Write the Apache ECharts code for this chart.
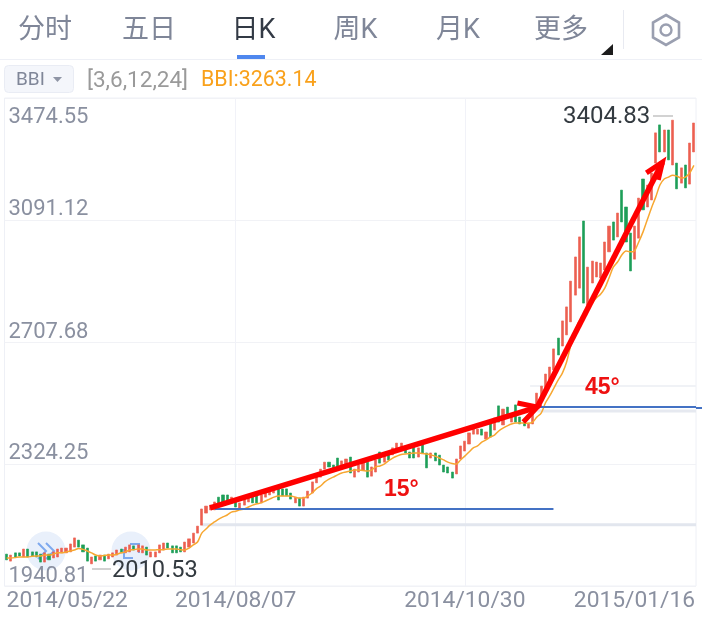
<!DOCTYPE html>
<html><head><meta charset="utf-8">
<style>html,body{margin:0;padding:0;background:#fff}#c{width:702px;height:619px}</style>
<script src="https://cdn.jsdelivr.net/npm/echarts@6/dist/echarts.min.js"></script>
</head><body><div id="c"></div>
<script>
var FONT='Roboto,"Noto Sans CJK SC",sans-serif';
var tabs=['分时','五日','日K','周K','月K','更多'];
var yTicks=[1940.81,2324.25,2707.68,3091.12,3474.55];
var dateLabels={0:'2014/05/22',54:'2014/08/07',108:'2014/10/30',148:'2015/01/16'};
var highs=[2041,2038,2045,2045,2057,2057,2048,2048,2041,2045,2041,2048,2057,2060,2060,2073,2092,2085,2070,2060,
2032,2035,2038,2038,2041,2045,2054,2057,2063,2070,2067,2070,2067,2063,2048,2048,2070,2076,2076,2067,
2067,2063,2079,2089,2107,2129,2183,2192,2195,2205,2220,2227,2227,2220,2211,2202,2214,2220,2220,2224,
2227,2236,2239,2246,2249,2246,2246,2233,2220,2217,2220,2239,2268,2283,2308,2330,2330,2321,2343,2334,
2340,2346,2308,2321,2327,2330,2315,2337,2362,2356,2359,2375,2390,2390,2381,2362,2378,2375,2384,2359,
2359,2359,2352,2321,2315,2299,2340,2381,2396,2422,2434,2434,2434,2425,2453,2469,2507,2497,2503,2478,
2510,2472,2456,2453,2488,2547,2569,2607,2629,2686,2720,2774,2818,2899,2975,3038,3088,2943,2962,2959,
2956,3022,3072,3085,3113,3185,3132,3050,3072,3160,3220,3201,3239,3365,3390,3374,3374,3404.83,3270,3255,
3264,3333,3396];
var lows=[2023,2019,2032,2035,2032,2032,2035,2032,2016,2016,2023,2029,2032,2045,2045,2048,2063,2063,2048,2019,
2010.53,2019,2023,2019,2026,2032,2038,2045,2045,2048,2054,2048,2045,2038,2032,2032,2045,2054,2060,2045,
2045,2048,2048,2063,2076,2107,2132,2170,2180,2180,2195,2202,2205,2202,2189,2186,2195,2205,2202,2202,
2202,2220,2227,2233,2211,2224,2224,2214,2202,2192,2192,2217,2233,2265,2283,2308,2315,2308,2308,2315,
2315,2296,2283,2299,2305,2283,2286,2299,2327,2330,2337,2353,2362,2368,2359,2343,2343,2346,2359,2312,
2343,2334,2321,2299,2296,2280,2293,2340,2365,2387,2418,2418,2415,2403,2409,2431,2456,2447,2478,2456,
2456,2450,2444,2437,2450,2500,2525,2551,2573,2620,2667,2695,2730,2771,2855,2877,2830,2824,2893,2912,
2909,2934,2991,3028,3038,3085,3022,2931,2968,3034,3123,3132,3154,3270,3305,3305,3280,3264,3189,3207,
3192,3204,3305];
var rising=[0,1,0,0,1,0,0,0,0,1,0,1,1,1,1,1,1,0,0,0,
1,0,1,0,1,1,1,0,1,1,0,1,1,0,1,1,1,1,0,0,
0,0,1,1,1,1,1,1,1,1,0,0,0,1,0,1,1,1,0,0,
1,1,1,1,0,0,0,0,1,0,1,1,1,1,1,1,0,0,0,1,
1,0,1,1,1,0,1,1,0,1,0,1,1,1,0,0,0,1,0,0,
1,0,0,0,0,0,1,1,1,1,1,1,0,1,0,1,0,1,0,1,
0,0,0,1,1,1,1,1,1,1,0,1,1,1,1,1,0,1,1,1,
1,1,1,0,1,0,0,0,1,1,0,1,1,1,0,1,0,1,0,1,
0,1,1];
var bbi=[2029,2029,2030,2032,2032,2032,2034,2035,2035,2038,2038,2041,2045,2045,2048,2051,2054,2059,2056,2051,
2045,2038,2035,2037,2038,2038,2041,2045,2048,2054,2055,2057,2057,2054,2054,2054,2055,2055,2057,2057,
2057,2055,2054,2060,2070,2079,2107,2120,2133,2142,2151,2158,2164,2173,2176,2180,2183,2189,2195,2199,
2202,2208,2214,2220,2224,2224,2224,2224,2220,2217,2217,2224,2233,2246,2255,2268,2277,2283,2290,2296,
2299,2302,2305,2305,2304,2302,2305,2315,2318,2324,2334,2343,2349,2354,2356,2357,2359,2359,2357,2356,
2353,2349,2343,2337,2330,2326,2324,2337,2349,2362,2375,2381,2393,2400,2409,2415,2428,2437,2444,2450,
2453,2453,2453,2452,2456,2472,2484,2516,2538,2563,2588,2610,2645,2698,2742,2774,2789,2808,2830,2846,
2858,2877,2909,2943,2959,2981,2994,2991,2994,3022,3053,3091,3129,3163,3201,3220,3226,3232,3229,3223,
3226,3239,3263];
var arrowRise=[[47.97,2186],[125.1,2503]];
var arrowRiseHead=[[120.4,2516],[125.1,2503],[121.8,2456]];
var arrowSteep=[[125.1,2503],[154.6,3273]];
var arrowSteepHead=[[150.8,3239],[154.6,3273],[153.6,3217]];
var baseLow=[[49.1,2183],[128.9,2183]];
var baseHigh=[[125.1,2503],[162.5,2503]];
var supportA=[[46.1,2133],[162.5,2133]];
var supportB=[[125.1,2491],[162.5,2491]];
var supportC=[[123.4,2569],[162.5,2569]];

var cats=highs.map(function(_,i){return dateLabels[i]||String(i);});
var candles=highs.map(function(h,i){var l=lows[i];return rising[i]?[l,h,l,h]:[h,l,l,h];});
function lineS(data,color,width,z){return {type:'line',xAxisIndex:1,data:data,symbol:'none',clip:false,silent:true,z:z,
  lineStyle:{color:color,width:width,cap:'butt',join:'miter'},animation:false};}
var tabX=[45,149,253.5,355.5,458,561];
var g=[];
tabs.forEach(function(t,i){g.push({type:'text',z:100,x:tabX[i],y:31,style:{text:t,fontFamily:FONT,fontSize:27,
  fill:i===2?'#333a45':'#7f8698',align:'center',verticalAlign:'middle'}});});
g.push(
 {type:'rect',z:100,shape:{x:0,y:59,width:702,height:1},style:{fill:'#eef0f6'}},
 {type:'rect',z:100,shape:{x:237,y:55,width:28,height:4},style:{fill:'#4f87ee'}},
 {type:'polygon',z:100,shape:{points:[[613,44],[613,55],[601,55]]},style:{fill:'#1c1c1c'}},
 {type:'rect',z:100,shape:{x:623,y:10,width:1,height:39},style:{fill:'#e8eaf1'}},
 {type:'polygon',z:100,shape:{points:[[666,15],[679,22.5],[679,37.5],[666,45],[653,37.5],[653,22.5]]},style:{fill:'none',stroke:'#9a9fb0',lineWidth:2.6}},
 {type:'circle',z:100,shape:{cx:666,cy:30,r:5.5},style:{fill:'none',stroke:'#9a9fb0',lineWidth:2.4}},
 {type:'rect',z:100,shape:{x:4.5,y:65.5,width:69,height:27,r:4},style:{fill:'#f4f6fb',stroke:'#e9ecf4',lineWidth:1}},
 {type:'text',z:100,x:16,y:80,style:{text:'BBI',fontFamily:FONT,fontSize:19,fill:'#7f8698',verticalAlign:'middle'}},
 {type:'polygon',z:100,shape:{points:[[53,77],[62,77],[57.5,82]]},style:{fill:'#8f95a5'}},
 {type:'text',z:100,x:87,y:81,style:{text:'[3,6,12,24]',fontFamily:FONT,fontSize:22.5,fill:'#9a9a9a',verticalAlign:'middle'}},
 {type:'text',z:100,x:201,y:81,style:{text:'BBI:3263.14',fontFamily:FONT,fontSize:21.4,fill:'#f9a11b',verticalAlign:'middle'}},
 {type:'circle',z:0,shape:{cx:46,cy:551,r:19.5},style:{fill:'#e9f0fb'}},
 {type:'polyline',z:0,shape:{points:[[38,543],[46,551],[38,559]]},style:{fill:'none',stroke:'#7ea9ee',lineWidth:2}},
 {type:'polyline',z:0,shape:{points:[[46,543],[54,551],[46,559]]},style:{fill:'none',stroke:'#7ea9ee',lineWidth:2}},
 {type:'circle',z:0,shape:{cx:131,cy:551,r:19.5},style:{fill:'#e9f0fb'}},
 {type:'polyline',z:0,shape:{points:[[130,544],[139,544],[139,553]]},style:{fill:'none',stroke:'#7ea9ee',lineWidth:2}},
 {type:'polyline',z:0,shape:{points:[[124,549],[124,558],[133,558]]},style:{fill:'none',stroke:'#7ea9ee',lineWidth:2}},
 {type:'text',z:100,x:563,y:117,style:{text:'3404.83',fontFamily:FONT,fontSize:24,fill:'#333a40',verticalAlign:'middle'}},
 {type:'rect',z:100,shape:{x:653,y:115.5,width:20,height:1},style:{fill:'#a5a5a5'}},
 {type:'text',z:100,x:112,y:571,style:{text:'2010.53',fontFamily:FONT,fontSize:23.6,fill:'#333a40',verticalAlign:'middle'}},
 {type:'rect',z:100,shape:{x:92,y:568.5,width:19,height:1},style:{fill:'#a5a5a5'}},
 {type:'rect',z:100,shape:{x:696,y:407,width:6,height:2},style:{fill:'#4472c4'}},
 {type:'text',z:100,x:384,y:490,style:{text:'15°',fontFamily:'"Liberation Sans",Arial,sans-serif',fontWeight:'bold',fontSize:23,fill:'#ee1111',verticalAlign:'middle'}},
 {type:'text',z:100,x:585,y:388,style:{text:'45°',fontFamily:'"Liberation Sans",Arial,sans-serif',fontWeight:'bold',fontSize:23,fill:'#ee1111',verticalAlign:'middle'}}
);
var chart=echarts.init(document.getElementById('c'),null,{renderer:'canvas'});
chart.setOption({
 animation:false,
 grid:{left:4.5,top:98,width:691.5,height:488,show:true,borderColor:'#eef0f6',borderWidth:1,containLabel:false},
 xAxis:[{type:'category',data:cats,boundaryGap:true,
   axisLine:{show:false},axisTick:{show:false},
   splitLine:{show:true,alignWithLabel:true,interval:function(i){return i===54||i===108;},lineStyle:{color:'#f1f2f8',width:1}},
   axisLabel:{show:true,interval:function(i){return dateLabels[i]!==undefined;},hideOverlap:false,alignMinLabel:'left',
     fontFamily:FONT,fontSize:22.8,color:'#8a90a0',margin:4}},
  {type:'value',min:-0.5,max:162.5,show:false,splitLine:{show:false}}],
 yAxis:{type:'value',min:yTicks[0],max:yTicks[4],scale:true,
   axisLine:{show:false},axisTick:{show:false,customValues:yTicks},
   splitLine:{show:true,lineStyle:{color:'#f1f2f6',width:1}},
   axisLabel:{inside:true,customValues:yTicks,margin:4,fontFamily:FONT,fontSize:22,color:'#8a90a0',verticalAlign:'bottom',verticalAlignMaxLabel:'top',lineHeight:20,
     formatter:function(v){return v===yTicks[4]?'{top|'+v.toFixed(2)+'}':v.toFixed(2);},
     rich:{top:{fontFamily:FONT,fontSize:22,color:'#8a90a0',lineHeight:38}}}},
 graphic:{elements:g},
 series:[
  lineS(supportA,'#e2e6ee',3,1),lineS(supportB,'#e6e9f0',3,1),lineS(supportC,'#f0f2f6',2,1),
  {type:'candlestick',xAxisIndex:0,data:candles,barWidth:2.6,z:2,silent:true,
   itemStyle:{color:'#ec5f50',color0:'#1d9e58',borderColor:'#ec5f50',borderColor0:'#1d9e58',borderWidth:0.6}},
  {type:'line',xAxisIndex:0,data:bbi,symbol:'none',smooth:0.3,z:3,silent:true,lineStyle:{color:'#f7a731',width:1.5}},
  lineS(baseLow,'#4472c4',2,4),lineS(baseHigh,'#4472c4',2,4),
  lineS(arrowRise,'#ff0000',5.5,5),lineS(arrowRiseHead,'#ff0000',5,5),
  lineS(arrowSteep,'#ff0000',5.5,5),lineS(arrowSteepHead,'#ff0000',5,5)
 ]
});
</script></body></html>
